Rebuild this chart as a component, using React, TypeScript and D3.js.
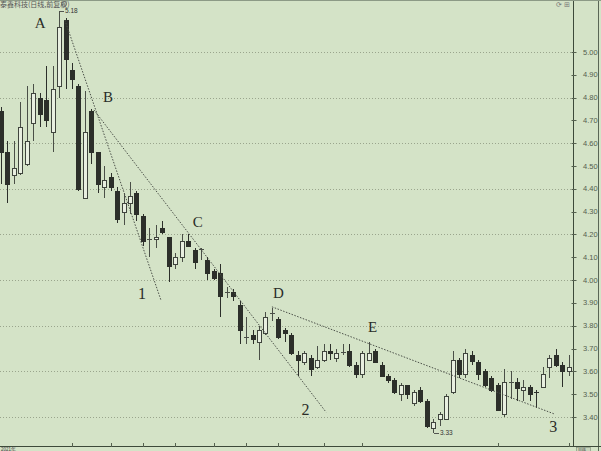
import React from "react";
import * as d3 from "d3";

const W = 601;
const H = 451;

// OHLC (index = trading day)
const opens = [4.74,4.56,4.46,4.47,4.51,4.69,4.80,4.79,4.65,4.85,5.14,4.92,4.85,4.36,4.74,4.56,4.41,4.45,4.39,4.30,4.34,4.38,4.28,4.175,4.18,4.23,4.19,4.07,4.10,4.17,4.13,4.13,4.09,4.04,4.03,3.95,3.95,3.89,3.75,3.76,3.73,3.77,3.85,3.83,3.78,3.76,3.67,3.64,3.66,3.62,3.65,3.69,3.66,3.685,3.69,3.63,3.59,3.65,3.69,3.63,3.58,3.56,3.50,3.54,3.46,3.52,3.47,3.35,3.39,3.39,3.51,3.65,3.59,3.67,3.64,3.60,3.57,3.54,3.415,3.555,3.555,3.52,3.53,3.51,3.53,3.62,3.67,3.63,3.60];
const highs = [4.76,4.61,4.61,4.78,4.85,4.86,4.82,4.94,4.94,5.18,5.15,4.95,4.86,4.83,4.75,4.56,4.50,4.47,4.41,4.38,4.43,4.39,4.29,4.23,4.24,4.26,4.19,4.12,4.20,4.20,4.14,4.14,4.10,4.05,4.07,3.97,3.96,3.91,3.84,3.78,3.80,3.86,3.88,3.84,3.79,3.77,3.69,3.69,3.67,3.71,3.72,3.72,3.70,3.72,3.72,3.64,3.69,3.73,3.70,3.64,3.59,3.57,3.55,3.54,3.52,3.53,3.48,3.39,3.42,3.50,3.69,3.66,3.70,3.69,3.65,3.61,3.58,3.55,3.61,3.60,3.57,3.56,3.54,3.52,3.62,3.67,3.70,3.64,3.67];
const lows = [4.42,4.34,4.42,4.46,4.50,4.61,4.67,4.67,4.56,4.80,4.84,4.84,4.39,4.36,4.51,4.38,4.36,4.39,4.25,4.24,4.29,4.26,4.15,4.10,4.14,4.20,3.99,4.05,4.08,4.15,4.05,4.09,4.00,4.00,3.84,3.92,3.91,3.72,3.72,3.72,3.65,3.76,3.82,3.74,3.73,3.67,3.58,3.63,3.58,3.61,3.64,3.65,3.64,3.67,3.62,3.57,3.57,3.65,3.64,3.58,3.55,3.50,3.47,3.48,3.45,3.46,3.35,3.33,3.36,3.39,3.50,3.57,3.57,3.63,3.56,3.53,3.51,3.43,3.40,3.48,3.47,3.47,3.47,3.44,3.53,3.57,3.62,3.53,3.58];
const closes = [4.56,4.42,4.49,4.67,4.61,4.82,4.73,4.70,4.84,5.11,4.97,4.88,4.40,4.65,4.56,4.42,4.44,4.41,4.27,4.34,4.37,4.29,4.17,4.18,4.19,4.21,4.06,4.10,4.17,4.15,4.08,4.135,4.03,4.01,3.93,3.95,3.93,3.78,3.75,3.74,3.78,3.84,3.855,3.75,3.77,3.68,3.65,3.68,3.61,3.65,3.69,3.68,3.68,3.685,3.63,3.59,3.68,3.68,3.64,3.58,3.56,3.51,3.54,3.50,3.51,3.47,3.36,3.38,3.415,3.49,3.65,3.59,3.68,3.645,3.59,3.54,3.52,3.43,3.555,3.555,3.525,3.53,3.50,3.505,3.59,3.66,3.63,3.60,3.62];

const priceTicks = [3.4,3.5,3.6,3.7,3.8,3.9,4.0,4.1,4.2,4.3,4.4,4.5,4.6,4.7,4.8,4.9,5.0];
const gridPrices = [3.4,3.6,3.8,4.0,4.2,4.4,4.6,4.8,5.0];
const dateTickIdx = [11,17,22,27,33,38,43,50,56,77,88];

// trend lines: [startIdx, startPrice, endIdx, endPrice]
const trendStartIdx = [9.9, 14.4, 42.0];
const trendStartPrice = [5.14, 4.746, 3.883];
const trendEndIdx = [24.8, 50.4, 85.9];
const trendEndPrice = [3.912, 3.421, 3.412];

const labelTexts = ["A","B","C","D","E","1","2","3"];
const labelIdx = [6.05,16.6,30.5,43.0,57.6,21.86,47.2,85.6];
const labelPrice = [5.107,4.779,4.235,3.923,3.774,3.919,3.408,3.333];

const hiIdx = 9;
const loIdx = 67;

export default function App() {
  const n = opens.length;
  const x = d3.scaleBand<number>().domain(d3.range(n)).range([-2.2, -2.2 + 6.45 * n]).padding(0);
  const xi = d3.scaleLinear().domain([0, n - 1]).range([(x(0) as number) + x.bandwidth() / 2, (x(n - 1) as number) + x.bandwidth() / 2]);
  const y = d3.scaleLinear().domain([3.4, 5.0]).range([417, 52]);
  const cx = (i: number) => Math.round((x(i) as number) + x.bandwidth() / 2);
  const axisX = 573.5;
  const bg = "#d4e3c7";

  return (
    <div style={{ position: "fixed", left: 0, top: 0, width: W, height: H, overflow: "hidden", background: bg }}>
      <svg width={W} height={H} style={{ display: "block" }} fontFamily="'Liberation Sans', Arial, sans-serif">
        <rect x={0} y={0} width={W} height={H} fill={bg} />
        {/* grid */}
        {gridPrices.map((p) => (
          <line key={"g" + p} x1={0} x2={axisX} y1={Math.round(y(p)) + 0.5} y2={Math.round(y(p)) + 0.5}
            stroke="#9aa58d" strokeWidth={1} strokeDasharray="1,2" />
        ))}
        {/* right axis */}
        <line x1={axisX} x2={axisX} y1={0} y2={447} stroke="#3d4a3a" strokeWidth={1} />
        <line x1={598.5} x2={598.5} y1={0} y2={H} stroke="#5a6656" strokeWidth={1} />
        <line x1={0} x2={W} y1={0.5} y2={0.5} stroke="#8c9a86" strokeWidth={1} />
        {priceTicks.map((p) => (
          <g key={"t" + p}>
            <line x1={axisX - 2} x2={axisX + 3} y1={Math.round(y(p)) + 0.5} y2={Math.round(y(p)) + 0.5} stroke="#55614f" strokeWidth={1} />
            <text x={583} y={y(p) + 2.5} fontSize={7.5} fill="#55604f">{p.toFixed(2)}</text>
          </g>
        ))}
        {/* bottom axis */}
        <line x1={0} x2={W} y1={446.5} y2={446.5} stroke="#3d4a3a" strokeWidth={1} />
        {dateTickIdx.map((i) => (
          <line key={"d" + i} x1={cx(i) + 0.5} x2={cx(i) + 0.5} y1={443} y2={447} stroke="#55614f" strokeWidth={1} />
        ))}
        <text x={1} y={450.5} fontSize={4.5} fill="#444">2021年</text>
        <rect x={576.5} y={447.5} width={14} height={4} fill="#c8d6bc" stroke="#7d8a77" strokeWidth={0.6} />
        <text x={578} y={450.8} fontSize={4} fill="#444">日线</text>
        {/* title */}
        <text x={0} y={7} fontSize={7} fill="#555" fontFamily="'Noto Sans CJK SC', sans-serif">泰鑫科技(日线,前复权)</text>
        <circle cx={64} cy={4} r={2.5} fill="none" stroke="#666" strokeWidth={0.8} />
        <line x1={62.5} x2={65.5} y1={4} y2={4} stroke="#666" strokeWidth={0.7} />
        <text x={556} y={7} fontSize={7} fill="#777">⟳ ⊞</text>

        {/* candles */}
        {opens.map((o, i) => {
          const c = closes[i];
          const up = c >= o;
          const xc = cx(i);
          const yTop = Math.round(y(Math.max(o, c)));
          const yBot = Math.round(y(Math.min(o, c)));
          const h = Math.max(0, yBot - yTop);
          const col = "#2c2f2a";
          return (
            <g key={"c" + i}>
              <line x1={xc + 0.5} x2={xc + 0.5} y1={Math.round(y(highs[i]))} y2={Math.round(y(lows[i]))} stroke={up ? "#4a4f47" : col} strokeWidth={1} />
              {h < 1.5 ? (
                <line x1={xc - 2} x2={xc + 3} y1={yTop + 0.5} y2={yTop + 0.5} stroke={up ? "#4a4f47" : col} strokeWidth={1} />
              ) : up ? (
                <rect x={xc - 1.5} y={yTop + 0.5} width={4} height={h} fill="#e8efe0" stroke="#3f443d" strokeWidth={1} />
              ) : (
                <rect x={xc - 2} y={yTop} width={5} height={h + 1} fill={col} />
              )}
            </g>
          );
        })}

        {/* high / low markers */}
        <line x1={cx(hiIdx) + 1} x2={cx(hiIdx) + 5} y1={Math.round(y(highs[hiIdx])) + 0.5} y2={Math.round(y(highs[hiIdx])) + 0.5} stroke="#333" strokeWidth={0.8} />
        <text x={cx(hiIdx) + 6} y={y(highs[hiIdx]) + 2.5} fontSize={6.5} fill="#333">{highs[hiIdx].toFixed(2)}</text>
        <line x1={cx(loIdx) + 1} x2={cx(loIdx) + 6} y1={Math.round(y(lows[loIdx])) + 0.5} y2={Math.round(y(lows[loIdx])) + 0.5} stroke="#333" strokeWidth={0.8} />
        <text x={cx(loIdx) + 7} y={y(lows[loIdx]) + 2.5} fontSize={6.5} fill="#333">{lows[loIdx].toFixed(2)}</text>

        {/* trend lines */}
        {trendStartIdx.map((s, k) => (
          <line key={"tr" + k} x1={xi(s)} y1={y(trendStartPrice[k])} x2={xi(trendEndIdx[k])} y2={y(trendEndPrice[k])}
            stroke="#4a4f47" strokeWidth={1} strokeDasharray="1.5,1.5" />
        ))}

        {/* annotations */}
        {labelTexts.map((t, k) => (
          <text key={"l" + k} x={xi(labelIdx[k])} y={y(labelPrice[k])} textAnchor="middle"
            fontFamily="'Liberation Serif', 'Times New Roman', serif" fontSize={/\d/.test(t) ? 16 : 15} fill="#2a2d28">{t}</text>
        ))}
      </svg>
    </div>
  );
}
